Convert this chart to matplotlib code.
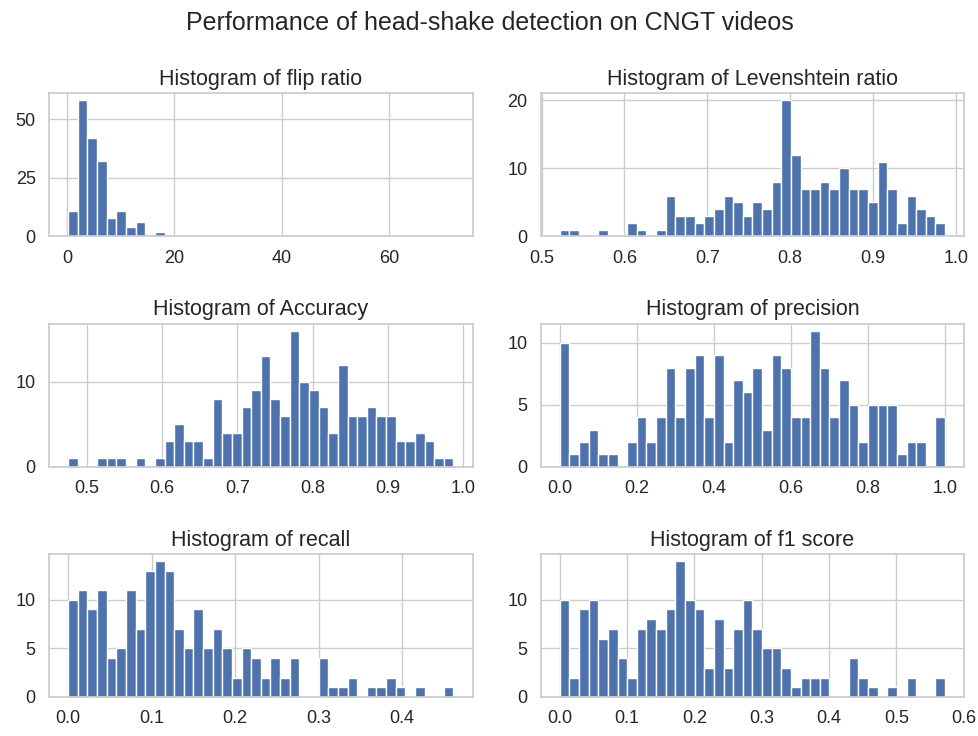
import numpy as np
import matplotlib
matplotlib.use("Agg")
import matplotlib.pyplot as plt
import seaborn as sns

# counts per bin (40 bins each)
flip_counts = [11, 58, 42, 32, 8, 11, 4, 6, 0, 2] + [0] * 30
flip_range = (0.25, 72.0)

lev_counts = [1, 1, 0, 0, 1, 0, 0, 2, 1, 0,
              1, 6, 3, 3, 2, 3, 4, 6, 5, 3,
              5, 4, 8, 20, 12, 7, 7, 8, 7, 10,
              7, 7, 5, 11, 7, 2, 6, 4, 3, 2]
lev_range = (0.522, 0.987)

acc_counts = [1, 0, 0, 1, 1, 1, 0, 1, 0, 1,
              3, 5, 3, 3, 1, 8, 4, 4, 7, 9,
              13, 8, 6, 16, 10, 9, 7, 4, 12, 6,
              6, 7, 6, 6, 3, 3, 4, 3, 1, 1]
acc_range = (0.4752, 0.9868)

prec_counts = [10, 1, 2, 3, 1, 1, 0, 2, 4, 2,
               4, 8, 4, 8, 9, 4, 9, 2, 7, 6,
               8, 3, 9, 8, 4, 4, 11, 8, 4, 7,
               5, 2, 5, 5, 5, 1, 2, 2, 0, 4]
prec_range = (0.0, 1.0)

rec_counts = [10, 11, 9, 11, 4, 5, 11, 7, 13, 14,
              13, 7, 5, 9, 5, 7, 5, 2, 5, 4,
              2, 4, 2, 4, 0, 0, 4, 1, 1, 2,
              0, 1, 1, 2, 1, 0, 1, 0, 0, 1]
rec_range = (0.0, 0.4615)

f1_counts = [10, 2, 9, 10, 6, 7, 4, 2, 7, 8,
             7, 9, 14, 10, 9, 3, 8, 3, 7, 10,
             7, 5, 5, 3, 1, 2, 2, 2, 0, 0,
             4, 2, 1, 0, 1, 0, 2, 0, 0, 2]
f1_range = (0.0, 0.5725)

titles = ["flip ratio", "Levenshtein ratio", "Accuracy",
          "precision", "recall", "f1 score"]
all_counts = [flip_counts, lev_counts, acc_counts, prec_counts, rec_counts, f1_counts]
all_ranges = [flip_range, lev_range, acc_range, prec_range, rec_range, f1_range]

sns.set_theme(style="whitegrid")
plt.rcParams['font.family'] = ['Liberation Sans', 'DejaVu Sans']

fig, axes = plt.subplots(3, 2, figsize=(9.79, 7.36), dpi=100)
fig.subplots_adjust(left=0.050, right=0.985, top=0.873, bottom=0.053,
                    wspace=0.16, hspace=0.61)

for ax, name, counts, rng in zip(axes.flat, titles, all_counts, all_ranges):
    edges = np.linspace(rng[0], rng[1], len(counts) + 1)
    centers = (edges[:-1] + edges[1:]) / 2
    ax.hist(centers, bins=edges, weights=counts, color="#4c72b0",
            edgecolor="white", linewidth=1.0)
    ax.set_title("Histogram of " + name, fontsize=15.5, color="#262626")
    ax.tick_params(labelsize=13, colors="#262626")

fig.suptitle("Performance of head-shake detection on CNGT videos",
             fontsize=18, color="#262626", y=0.985)

plt.savefig("out.png", dpi=100)
